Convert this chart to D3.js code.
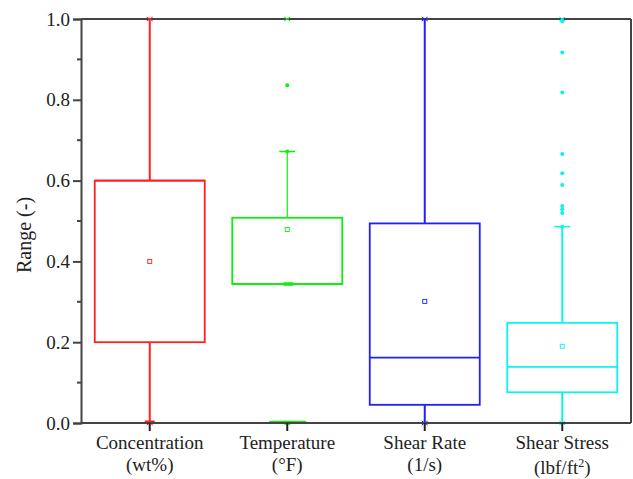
<!DOCTYPE html>
<html><head><meta charset="utf-8">
<script src="https://cdn.jsdelivr.net/npm/d3@7"></script>
<style>body{margin:0;background:#fff}svg{display:block}</style>
</head><body><svg id="c" width="633" height="479"></svg>
<script>
const categories = ["Concentration", "Temperature", "Shear Rate", "Shear Stress"];
const units = ["(wt%)", "(°F)", "(1/s)", "(lbf/ft²)"];
const colors = ["#ff2020", "#10ee10", "#2020ff", "#10f0f0"];
const q1 = [0.2, 0.344, 0.045, 0.076];
const median = [0.6, 0.344, 0.162, 0.139];
const q3 = [0.6, 0.508, 0.494, 0.248];
const whiskerLow = [0.0, 0.344, 0.0, 0.0];
const whiskerHigh = [1.0, 0.672, 1.0, 0.486];
const means = [0.4, 0.479, 0.301, 0.19];
const minVal = [0.0, 0.0, 0.0, 0.0];
const maxVal = [1.0, 1.0, 1.0, 1.0];
const outliers = [
  [],
  [0.836, 0.672, 0.0],
  [],
  [0.994, 0.917, 0.818, 0.666, 0.618, 0.589, 0.537, 0.529, 0.520, 0.486]
];
const yTicks = [0, 0.2, 0.4, 0.6, 0.8, 1.0];
const yMinor = [0.1, 0.3, 0.5, 0.7, 0.9];

const FONT = "Liberation Serif";
const svg = d3.select("#c");
const m = {l: 81, r: 631, t: 19, b: 423};
const x = d3.scaleBand().domain(categories).range([m.l, m.r]).padding(0);
const y = d3.scaleLinear().domain([0, 1]).range([m.b, m.t]);
const bw = x.bandwidth() * 0.8;
const capW = 16;

svg.append("line").attr("x1", m.l).attr("x2", m.r).attr("y1", m.t).attr("y2", m.t).attr("stroke", "#444").attr("stroke-width", 2);
svg.append("line").attr("x1", m.r).attr("x2", m.r).attr("y1", m.t).attr("y2", m.b).attr("stroke", "#444").attr("stroke-width", 2);

const g = svg.append("g");
categories.forEach((c, i) => {
  const cx = x(c) + x.bandwidth() / 2;
  const col = colors[i];
  const gg = g.append("g").attr("stroke", col).attr("fill", "none");
  if (whiskerHigh[i] > q3[i]) gg.append("line").attr("x1", cx).attr("x2", cx).attr("y1", y(q3[i])).attr("y2", y(whiskerHigh[i])).attr("stroke-width", i === 1 ? 1.2 : 2);
  if (whiskerLow[i] < q1[i]) gg.append("line").attr("x1", cx).attr("x2", cx).attr("y1", y(q1[i])).attr("y2", y(whiskerLow[i])).attr("stroke-width", 2);
  if (whiskerHigh[i] < 1) gg.append("line").attr("x1", cx - capW / 2).attr("x2", cx + capW / 2).attr("y1", y(whiskerHigh[i])).attr("y2", y(whiskerHigh[i])).attr("stroke-width", 1.5);
  gg.append("rect").attr("x", cx - bw / 2).attr("width", bw).attr("y", y(q3[i])).attr("height", y(q1[i]) - y(q3[i])).attr("stroke-width", 1.8);
  gg.append("line").attr("x1", cx - bw / 2).attr("x2", cx + bw / 2).attr("y1", y(median[i])).attr("y2", y(median[i])).attr("stroke-width", 1.8);
  gg.append("rect").attr("x", cx - 2).attr("y", y(means[i]) - 2).attr("width", 4).attr("height", 4).attr("stroke-width", 0.9);
  [minVal[i], maxVal[i]].forEach(v => {
    gg.append("path").attr("d", `M${cx - 3},${y(v) - 2}L${cx + 3},${y(v) + 2}M${cx - 3},${y(v) + 2}L${cx + 3},${y(v) - 2}`).attr("stroke-width", 1);
  });
  if (i === 0) gg.append("line").attr("x1", cx - 5).attr("x2", cx + 5).attr("y1", y(0) - 1).attr("y2", y(0) - 1).attr("stroke-width", 3);
  if (i === 1) {
    gg.append("line").attr("x1", cx - 4).attr("x2", cx + 6).attr("y1", y(median[i])).attr("y2", y(median[i])).attr("stroke-width", 3.5);
    gg.append("line").attr("x1", cx - 18).attr("x2", cx + 19).attr("y1", y(0) - 1).attr("y2", y(0) - 1).attr("stroke-width", 2.5);
  }
  g.selectAll(null).data(outliers[i]).enter().append("circle")
    .attr("cx", cx).attr("cy", d => y(d)).attr("r", 2).attr("fill", col);
});

const ya = svg.append("g").attr("transform", `translate(${m.l},0)`)
  .call(d3.axisLeft(y).tickValues(yTicks).tickFormat(d3.format(".1f")).tickSize(8).tickPadding(3));
ya.attr("font-family", FONT);
ya.select(".domain").attr("stroke", "#444").attr("stroke-width", 2);
ya.selectAll(".tick line").attr("stroke", "#444").attr("stroke-width", 2);
ya.selectAll("text").attr("font-size", 19).attr("fill", "#222").style("font-family", FONT);
svg.append("g").selectAll(null).data(yMinor).enter().append("line")
  .attr("x1", m.l - 4).attr("x2", m.l).attr("y1", d => y(d)).attr("y2", d => y(d)).attr("stroke", "#444").attr("stroke-width", 2);

const xa = svg.append("g").attr("transform", `translate(0,${m.b})`)
  .call(d3.axisBottom(x).tickSize(8).tickFormat(""));
xa.select(".domain").attr("stroke", "#444").attr("stroke-width", 2).attr("d", `M${m.l},0H${m.r}`);
xa.selectAll(".tick line").attr("stroke", "#222").attr("stroke-width", 2);
categories.forEach((c, i) => {
  const cx = x(c) + x.bandwidth() / 2;
  svg.append("text").attr("x", cx).attr("y", 449).attr("text-anchor", "middle").attr("font-size", 19).attr("fill", "#222").style("font-family", FONT).text(c);
  const t = svg.append("text").attr("x", cx).attr("y", i === 3 ? 474 : 471).attr("text-anchor", "middle").attr("font-size", 19).attr("fill", "#222").style("font-family", FONT);
  if (i === 3) {
    t.append("tspan").text("(lbf/ft");
    t.append("tspan").attr("dy", -7).attr("font-size", 12).text("2");
    t.append("tspan").attr("dy", 7).text(")");
  } else t.text(units[i]);
});

svg.append("text").attr("transform", `translate(31,235) rotate(-90)`).attr("text-anchor", "middle").attr("font-size", 20).attr("fill", "#222").style("font-family", FONT).text("Range (-)");
</script></body></html>
